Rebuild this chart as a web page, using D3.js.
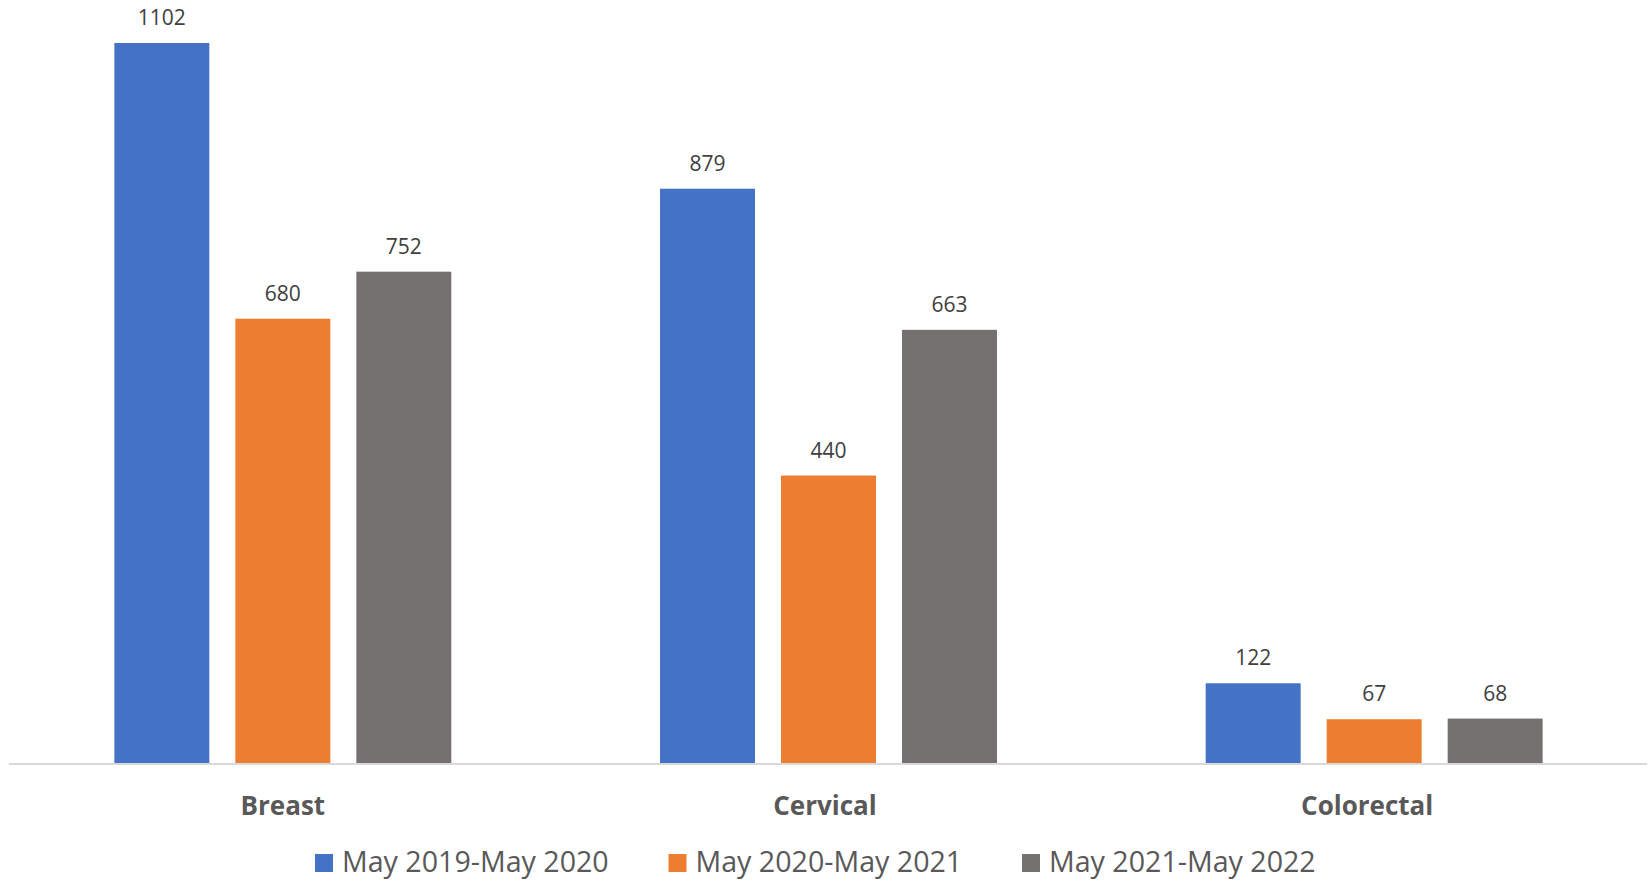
<!DOCTYPE html>
<html>
<head>
<meta charset="utf-8">
<script src="https://cdn.jsdelivr.net/npm/d3@7"></script>
<style>
  body { margin: 0; background: #fff; }
  svg { display: block; font-family: "Open Sans", sans-serif; }
</style>
</head>
<body>
<div id="vis"></div>
<script>
var width = 1650;
var height = 883;

// chart data
var categories = ['Breast', 'Cervical', 'Colorectal'];
var seriesNames = ['May 2019-May 2020', 'May 2020-May 2021', 'May 2021-May 2022'];
var series2019 = [1102, 879, 122];
var series2020 = [680, 440, 67];
var series2021 = [752, 663, 68];
var seriesColors = ['#4472C4', '#ED7D31', '#767171'];

var seriesValues = [series2019, series2020, series2021];

var margin = {left: 10, right: 3, top: 43, bottom: 120};
var baseline = height - margin.bottom;

var svg = d3.select('#vis')
    .append('svg')
    .attr('width', width)
    .attr('height', height);

// category scale, outer padding half of the inner one like excel
var x0 = d3.scaleBand()
    .domain(categories)
    .range([margin.left, width - margin.right])
    .paddingInner(0.3825)
    .paddingOuter(0.19125);

var x1 = d3.scaleBand()
    .domain(d3.range(seriesNames.length))
    .range([0, x0.bandwidth()])
    .paddingInner(0.215)
    .paddingOuter(0);

var y = d3.scaleLinear()
    .domain([0, d3.max(series2019)])
    .range([baseline, margin.top]);

// flatten to one record per bar
var bars = [];
categories.forEach(function (cat, ci) {
    seriesValues.forEach(function (vals, si) {
        bars.push({cat: cat, s: si, value: vals[ci]});
    });
});

var groups = svg.append('g').selectAll('rect')
    .data(bars)
    .enter();

groups.append('rect')
    .attr('x', function (d) { return x0(d.cat) + x1(d.s); })
    .attr('y', function (d) { return y(d.value); })
    .attr('width', x1.bandwidth())
    .attr('height', function (d) { return baseline - y(d.value); })
    .attr('fill', function (d) { return seriesColors[d.s]; });

groups.append('text')
    .attr('x', function (d) { return x0(d.cat) + x1(d.s) + x1.bandwidth() / 2; })
    .attr('y', function (d) { return y(d.value) - 18; })
    .attr('text-anchor', 'middle')
    .attr('font-size', 21)
    .attr('fill', '#404040')
    .text(function (d) { return d.value; });

// category axis
var xAxis = svg.append('g')
    .attr('transform', 'translate(0,' + (baseline + 1) + ')')
    .call(d3.axisBottom(x0).tickSize(0).tickPadding(0));
xAxis.select('.domain')
    .attr('stroke', '#d9d9d9')
    .attr('stroke-width', 2)
    .attr('d', 'M' + (margin.left - 1) + ',0H' + (width - margin.right));
xAxis.selectAll('.tick text')
    .attr('dy', null)
    .attr('y', 51)
    .attr('x', function (d, i) { return -i * 3.5; })
    .attr('font-family', '"Open Sans", sans-serif')
    .attr('font-size', 26)
    .attr('font-weight', 'bold')
    .attr('fill', '#595959');

// legend
var legendStart = 315;
var legendStep = 353.5;
var legend = svg.append('g')
    .attr('transform', 'translate(' + legendStart + ',854)');
var items = legend.selectAll('g')
    .data(seriesNames)
    .enter().append('g')
    .attr('transform', function (d, i) { return 'translate(' + (i * legendStep) + ',0)'; });
items.append('rect')
    .attr('width', 18)
    .attr('height', 18)
    .attr('fill', function (d, i) { return seriesColors[i]; });
items.append('text')
    .attr('x', 27)
    .attr('y', 18)
    .attr('font-size', 28.6)
    .attr('fill', '#595959')
    .text(function (d) { return d; });
</script>
</body>
</html>
